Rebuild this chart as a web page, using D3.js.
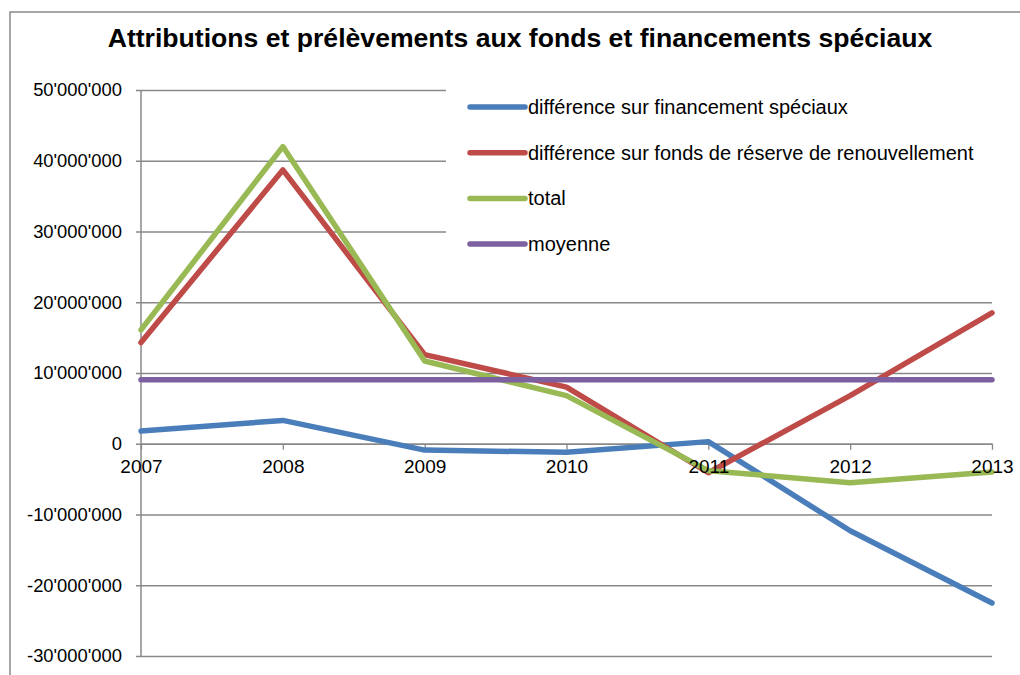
<!DOCTYPE html>
<html>
<head>
<meta charset="utf-8">
<script src="https://cdn.jsdelivr.net/npm/d3@7"></script>
<style>
  body { margin: 0; background: #fff; }
  text { font-family: "Liberation Sans", Arial, sans-serif; }
</style>
</head>
<body>
<script>
// data
const years = [2007, 2008, 2009, 2010, 2011, 2012, 2013];
const financement = [1800000, 3300000, -900000, -1200000, 300000, -12300000, -22500000];
const fondsReserve = [14300000, 38700000, 12600000, 8000000, -4100000, 6800000, 18500000];
const total = [16100000, 42000000, 11700000, 6800000, -3800000, -5500000, -4000000];
const moyenne = [9040000, 9040000, 9040000, 9040000, 9040000, 9040000, 9040000];
const yTicks = [50000000, 40000000, 30000000, 20000000, 10000000, 0, -10000000, -20000000, -30000000];
const seriesNames = ["différence sur financement spéciaux", "différence sur fonds de réserve de renouvellement", "total", "moyenne"];
const seriesColors = ["#4a7ebb", "#be4b48", "#98b954", "#7d60a0"];

const width = 1020, height = 675;
const plotL = 141, plotR = 992, plotT = 90, plotB = 656;

const svg = d3.select("body").append("svg").attr("width", width).attr("height", height);

// chart frame
svg.append("rect").attr("x", 10).attr("y", 12).attr("width", 1020).attr("height", 700)
  .attr("fill", "#fff").attr("stroke", "#898989").attr("stroke-width", 1.5);

svg.append("text").attr("x", 520).attr("y", 47).attr("text-anchor", "middle")
  .attr("font-size", "26.6px").attr("font-weight", "bold").attr("fill", "#000")
  .text("Attributions et prélèvements aux fonds et financements spéciaux");

const x = d3.scaleLinear().domain([2007, 2013]).range([plotL, plotR]);
const y = d3.scaleLinear().domain([-30000000, 50000000]).range([plotB, plotT]);

const fmt = v => v === 0 ? "0" : d3.format(",")(v).replace(/,/g, "'").replace("−", "-");

// gridlines + y axis labels
const yAxis = d3.axisLeft(y).tickValues(yTicks).tickSize(-(plotR - plotL + 5)).tickFormat(fmt).tickPadding(14);
const gy = svg.append("g").attr("transform", `translate(${plotL - 5},0)`).call(yAxis);
gy.select(".domain").remove();
gy.selectAll(".tick line").attr("stroke", "#898989").attr("stroke-width", 1.3);
gy.selectAll(".tick text").attr("font-size", "18.4px").attr("fill", "#000")
  .attr("font-family", "Liberation Sans, Arial, sans-serif");

// y axis line
svg.append("line").attr("x1", plotL).attr("x2", plotL).attr("y1", plotT).attr("y2", plotB)
  .attr("stroke", "#898989").attr("stroke-width", 1.5);

// legend box (covers the grid behind it)
svg.append("rect").attr("x", 446).attr("y", 84).attr("width", 560).attr("height", 180).attr("fill", "#fff");

// x axis at zero
const xAxis = d3.axisBottom(x).tickValues(years).tickFormat(d3.format("d")).tickSize(6).tickSizeOuter(0).tickPadding(10);
const gx = svg.append("g").attr("transform", `translate(0,${y(0)})`).call(xAxis);
gx.select(".domain").attr("stroke", "#898989").attr("stroke-width", 1.5);
gx.selectAll(".tick line").attr("stroke", "#898989").attr("stroke-width", 1.3);
gx.selectAll(".tick text").remove();

const line = d3.line().x((d, i) => x(years[i])).y(d => y(d));
const allSeries = [financement, fondsReserve, total, moyenne];

svg.selectAll("path.serie").data(allSeries).enter().append("path")
  .attr("class", "serie")
  .attr("d", line)
  .attr("fill", "none")
  .attr("stroke", (d, i) => seriesColors[i])
  .attr("stroke-width", 5.5)
  .attr("stroke-linecap", "round")
  .attr("stroke-linejoin", "round");

// year labels drawn on top of the lines, as in the reference
const xLabels = d3.axisBottom(x).tickValues(years).tickFormat(d3.format("d")).tickSize(6).tickSizeOuter(0).tickPadding(10);
const gxl = svg.append("g").attr("transform", `translate(0,${y(0)})`).call(xLabels);
gxl.select(".domain").remove();
gxl.selectAll(".tick line").remove();
gxl.selectAll(".tick text").attr("font-size", "19px").attr("fill", "#000")
  .attr("font-family", "Liberation Sans, Arial, sans-serif");

const leg = svg.selectAll("g.leg").data(seriesNames).enter().append("g")
  .attr("class", "leg")
  .attr("transform", (d, i) => `translate(470,${107 + i * 45.7})`);
leg.append("line").attr("x1", 0).attr("x2", 55).attr("y1", 0).attr("y2", 0)
  .attr("stroke", (d, i) => seriesColors[i]).attr("stroke-width", 5.5).attr("stroke-linecap", "round");
leg.append("text").attr("x", 58).attr("y", 7).attr("font-size", "20px").attr("fill", "#000").text(d => d);
</script>
</body>
</html>
